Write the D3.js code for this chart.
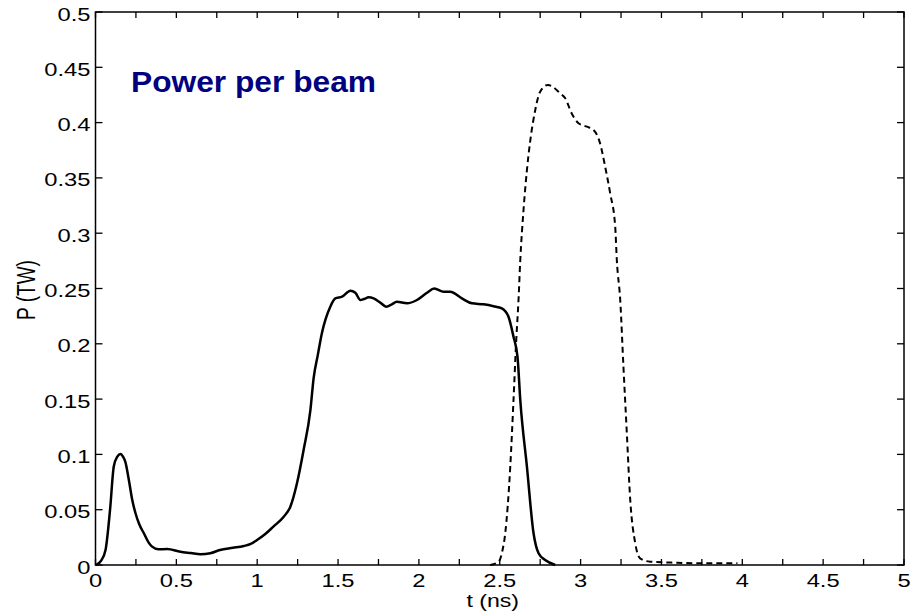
<!DOCTYPE html>
<html>
<head>
<meta charset="utf-8">
<script src="https://cdn.jsdelivr.net/npm/d3@7"></script>
<style>
  body { margin: 0; background: #fff; }
  svg { display: block; }
</style>
</head>
<body>
<svg id="chart" width="913" height="614"></svg>
<script>
// solid curve (first beam)
var tSolid = [0, 0.01, 0.035, 0.062, 0.09, 0.113, 0.135, 0.155, 0.17, 0.185, 0.205, 0.227, 0.247, 0.27, 0.299, 0.33, 0.35, 0.39, 0.443, 0.525, 0.59, 0.649, 0.71, 0.77, 0.85, 0.917, 0.96, 0.999, 1.05, 1.10, 1.164, 1.205, 1.246, 1.287, 1.329, 1.349, 1.375, 1.40, 1.452, 1.483, 1.525, 1.576, 1.607, 1.638, 1.66, 1.69, 1.72, 1.761, 1.798, 1.83, 1.864, 1.926, 1.988, 2.05, 2.095, 2.153, 2.194, 2.266, 2.328, 2.40, 2.462, 2.513, 2.554, 2.585, 2.61, 2.627, 2.668, 2.709, 2.74, 2.781, 2.843];
var pSolid = [0, 0.0006, 0.004, 0.0136, 0.05, 0.089, 0.098, 0.1004, 0.098, 0.093, 0.078, 0.059, 0.047, 0.037, 0.0287, 0.020, 0.0166, 0.0142, 0.0145, 0.012, 0.0108, 0.0097, 0.0106, 0.0136, 0.0155, 0.0172, 0.019, 0.0226, 0.028, 0.0347, 0.0437, 0.0527, 0.0739, 0.104, 0.140, 0.169, 0.19, 0.2095, 0.2335, 0.241, 0.2426, 0.248, 0.2462, 0.2396, 0.2405, 0.242, 0.241, 0.2372, 0.2336, 0.2355, 0.238, 0.2366, 0.2396, 0.2462, 0.250, 0.247, 0.247, 0.241, 0.2366, 0.2357, 0.234, 0.232, 0.2245, 0.2064, 0.188, 0.149, 0.0889, 0.0287, 0.0106, 0.0045, 0];

// dashed curve (second beam)
var tDashed = [2.441, 2.493, 2.515, 2.534, 2.565, 2.585, 2.602, 2.616, 2.627, 2.647, 2.668, 2.689, 2.719, 2.75, 2.798, 2.874, 2.905, 2.946, 2.987, 3.039, 3.08, 3.121, 3.152, 3.183, 3.214, 3.224, 3.245, 3.265, 3.286, 3.307, 3.338, 3.368, 3.43, 3.6, 3.8, 3.97];
var pDashed = [0, 0.003, 0.012, 0.0287, 0.0889, 0.149, 0.2034, 0.2396, 0.2758, 0.321, 0.357, 0.384, 0.411, 0.428, 0.434, 0.4265, 0.422, 0.408, 0.3994, 0.3963, 0.3933, 0.381, 0.360, 0.336, 0.306, 0.2758, 0.2396, 0.179, 0.119, 0.0588, 0.0196, 0.006, 0.003, 0.002, 0.0015, 0.0015];

var xTicks = [0, 0.5, 1, 1.5, 2, 2.5, 3, 3.5, 4, 4.5, 5];
var yTicks = [0, 0.05, 0.1, 0.15, 0.2, 0.25, 0.3, 0.35, 0.4, 0.45, 0.5];

var title = "Power per beam";
var xLabel = "t (ns)";
var yLabel = "P (TW)";

var margin = {top: 12, right: 9, bottom: 49, left: 95.5},
    width = 913 - margin.left - margin.right,
    height = 614 - margin.top - margin.bottom;

var stretch = 1.32; // tick text looks wide in the original

var svg = d3.select("#chart");
var g = svg.append("g")
  .attr("transform", "translate(" + margin.left + "," + margin.top + ")");

var x = d3.scaleLinear().domain([0, 5]).range([0, width]);
var y = d3.scaleLinear().domain([0, 0.5]).range([height, 0]);

var minorX = d3.range(0, 5.001, 0.25);

// ticks on all four sides, pointing inwards
function tickLines(sel, vals, fn) {
  sel.selectAll("line").data(vals).enter().append("line")
    .each(fn)
    .attr("stroke", "#000")
    .attr("stroke-width", 1.3);
}
var ticks = g.append("g");
tickLines(ticks.append("g"), minorX, function(d) {
  d3.select(this).attr("x1", x(d)).attr("x2", x(d)).attr("y1", height).attr("y2", height - 6);
});
tickLines(ticks.append("g"), minorX, function(d) {
  d3.select(this).attr("x1", x(d)).attr("x2", x(d)).attr("y1", 0).attr("y2", 6);
});
tickLines(ticks.append("g"), yTicks, function(d) {
  d3.select(this).attr("x1", 0).attr("x2", 7).attr("y1", y(d)).attr("y2", y(d));
});
tickLines(ticks.append("g"), yTicks, function(d) {
  d3.select(this).attr("x1", width).attr("x2", width - 7).attr("y1", y(d)).attr("y2", y(d));
});

// frame
g.append("rect")
  .attr("x", 0).attr("y", 0)
  .attr("width", width).attr("height", height)
  .attr("fill", "none")
  .attr("stroke", "#000")
  .attr("stroke-width", 1.5);

// tick labels
g.append("g").selectAll("text").data(xTicks).enter().append("text")
  .attr("transform", function(d) { return "translate(" + x(d) + "," + (height + 22) + ") scale(" + stretch + ",1)"; })
  .attr("text-anchor", "middle")
  .style("font-family", "'Liberation Sans', Arial, sans-serif")
  .style("font-size", "18px")
  .text(function(d) { return d; });

g.append("g").selectAll("text").data(yTicks).enter().append("text")
  .attr("transform", function(d) { return "translate(-5," + (y(d) + 8.5) + ") scale(" + stretch + ",1)"; })
  .attr("text-anchor", "end")
  .style("font-family", "'Liberation Sans', Arial, sans-serif")
  .style("font-size", "18px")
  .text(function(d) { return d; });

// axis titles
svg.append("text")
  .attr("transform", "translate(" + (margin.left + x(2.5) - 7) + ",607) scale(" + stretch + ",1)")
  .attr("text-anchor", "middle")
  .style("font-family", "'Liberation Sans', Arial, sans-serif")
  .style("font-size", "17.5px")
  .text(xLabel);

svg.append("text")
  .attr("transform", "translate(35,290) scale(" + stretch + ",1) rotate(-90)")
  .attr("text-anchor", "middle")
  .style("font-family", "'Liberation Sans', Arial, sans-serif")
  .style("font-size", "19px")
  .text(yLabel);

// curves
var line = d3.line()
  .x(function(d) { return x(d[0]); })
  .y(function(d) { return y(d[1]); })
  .curve(d3.curveMonotoneX);

var solidData = d3.zip(tSolid, pSolid);
var dashedData = d3.zip(tDashed, pDashed);

g.append("path")
  .datum(solidData)
  .attr("d", line)
  .attr("fill", "none")
  .attr("stroke", "#000")
  .attr("stroke-width", 2.5)
  .attr("stroke-linejoin", "round");

g.append("path")
  .datum(dashedData)
  .attr("d", line)
  .attr("fill", "none")
  .attr("stroke", "#000")
  .attr("stroke-width", 2)
  .attr("stroke-dasharray", "6,4");

// title inside the plot
svg.append("text")
  .attr("x", 131)
  .attr("y", 92)
  .attr("textLength", 245)
  .attr("lengthAdjust", "spacingAndGlyphs")
  .style("font-family", "'Liberation Sans', Arial, sans-serif")
  .style("font-size", "29px")
  .style("font-weight", "bold")
  .attr("fill", "#000080")
  .text(title);
</script>
</body>
</html>
